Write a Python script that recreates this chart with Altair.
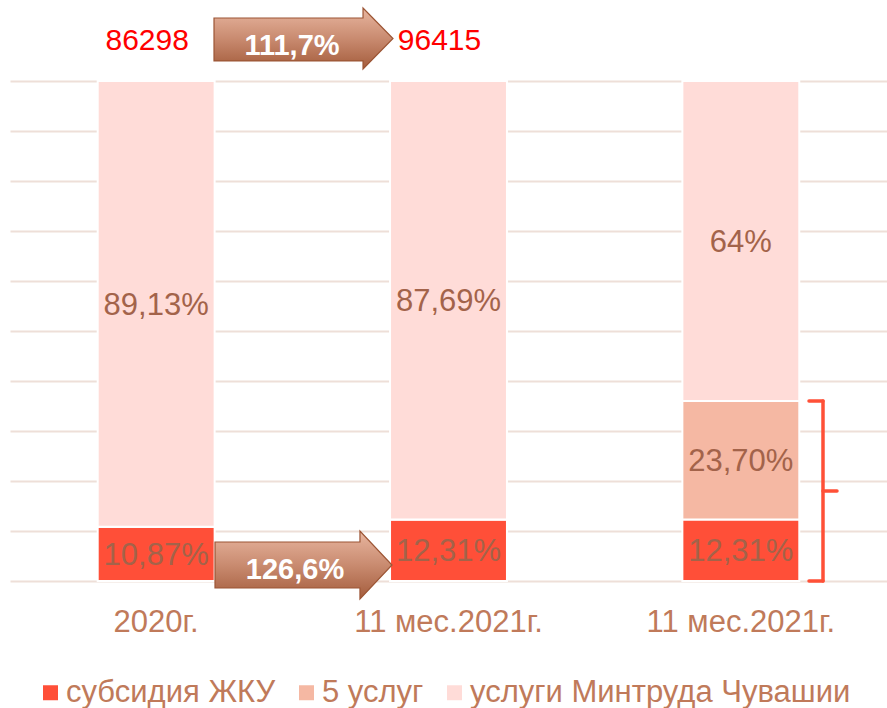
import json
import altair as alt
import pandas as pd

# ---- data ----
cat_keys = ["c1", "c2", "c3"]
cat_labels = ["2020г.", "11 мес.2021г.", "11 мес.2021г."]
series_names = ["субсидия ЖКУ", "5 услуг", "услуги Минтруда Чувашии"]
subsidy = [10.87, 12.31, 12.31]
five = [0.0, 0.0, 23.70]
mintrud = [89.13, 87.69, 64.0]
subsidy_lbl = ["10,87%", "12,31%", "12,31%"]
five_lbl = ["", "", "23,70%"]
mintrud_lbl = ["89,13%", "87,69%", "64%"]
totals = [86298, 96415]
total_cats = ["c1", "c2"]
growth = ["111,7%", "126,6%"]
colors = ["#FF4F38", "#F5B8A3", "#FFDCD8"]

FONT = "Liberation Sans"

rows = []
for i, k in enumerate(cat_keys):
    for o, (name, vals, lbls) in enumerate(
        [(series_names[0], subsidy, subsidy_lbl),
         (series_names[1], five, five_lbl),
         (series_names[2], mintrud, mintrud_lbl)]):
        rows.append({"cat": k, "series": name, "value": vals[i],
                     "label": lbls[i], "ord": o})
df = pd.DataFrame(rows)

label_map = json.dumps(dict(zip(cat_keys, cat_labels)), ensure_ascii=False)

x_enc = alt.X("cat:N", sort=cat_keys,
              scale=alt.Scale(paddingInner=0.6, paddingOuter=0.3),
              axis=alt.Axis(title=None, labelExpr=f"{label_map}[datum.value]",
                            labelAngle=0, domain=False, ticks=False,
                            labelFont=FONT, labelFontSize=31, labelLimit=0,
                            labelColor="#C07A5A", labelPadding=26))

y_scale = alt.Scale(domain=[0, 100], nice=False)

bars = alt.Chart(df).mark_bar(stroke="white", strokeWidth=2).encode(
    x=x_enc,
    y=alt.Y("value:Q", stack="zero", scale=y_scale,
            axis=alt.Axis(title=None, labels=False, domain=False, ticks=False,
                          grid=True, gridColor="#EEDFD8", gridWidth=2,
                          values=list(range(0, 101, 10)))),
    color=alt.Color("series:N",
                    scale=alt.Scale(domain=series_names, range=colors),
                    legend=alt.Legend(title=None, orient="none",
                                      direction="horizontal",
                                      legendX=25, legendY=596, padding=0,
                                      labelFont=FONT, labelFontSize=31,
                                      labelLimit=0,
                                      labelColor="#C07A5A",
                                      symbolType="square", symbolSize=225,
                                      symbolStrokeWidth=0, labelOffset=0,
                                      columnPadding=15)),
    order=alt.Order("ord:Q"),
)

texts = alt.Chart(df).transform_stack(
    stack="value", groupby=["cat"], sort=[alt.SortField("ord")], as_=["v0", "v1"]
).transform_calculate(
    mid="(datum.v0 + datum.v1) / 2"
).transform_filter("datum.value > 0").mark_text(
    font=FONT, fontSize=31, color="#A3634A", baseline="middle", dy=2
).encode(
    x=alt.X("cat:N", sort=cat_keys),
    y=alt.Y("mid:Q", scale=y_scale),
    text="label:N",
)

tot_df = pd.DataFrame({"cat": total_cats, "total": totals})
tot_text = alt.Chart(tot_df).mark_text(
    font=FONT, fontSize=30, color="#FF0000", baseline="middle", dx=-9
).encode(
    x=alt.X("cat:N", sort=cat_keys),
    y=alt.value(-40),
    text="total:N",
)

grad = alt.Gradient(gradient="linear",
                    stops=[alt.GradientStop(color="#E8B6A0", offset=0),
                           alt.GradientStop(color="#C98B70", offset=0.5),
                           alt.GradientStop(color="#A45C3C", offset=1)],
                    x1=0, x2=0, y1=0, y2=1)

one = pd.DataFrame({"g": growth})

arrow1_path = "M-1,-0.229L0.665,-0.229L0.665,-0.341L1,0L0.665,0.341L0.665,0.251L-1,0.251Z"
arrow2_path = "M-1,-0.26L0.638,-0.26L0.638,-0.384L1,0L0.638,0.384L0.638,0.26L-1,0.26Z"

arrow1 = alt.Chart(one.iloc[[0]]).mark_point(
    shape=arrow1_path, size=179 * 179, filled=True, fill=grad, opacity=1,
    stroke="#9C5535", strokeWidth=1.2, strokeOpacity=1
).encode(x=alt.value(293.5), y=alt.value(-42.5))

arrow2 = alt.Chart(one.iloc[[1]]).mark_point(
    shape=arrow2_path, size=177 * 177, filled=True, fill=grad, opacity=1,
    stroke="#9C5535", strokeWidth=1.2, strokeOpacity=1
).encode(x=alt.value(293.5), y=alt.value(484))

arrow1_t = alt.Chart(one.iloc[[0]]).mark_text(
    font=FONT, fontSize=29, fontWeight="bold", color="white", baseline="middle"
).encode(x=alt.value(282), y=alt.value(-35), text="g:N")

arrow2_t = alt.Chart(one.iloc[[1]]).mark_text(
    font=FONT, fontSize=29, fontWeight="bold", color="white", baseline="middle"
).encode(x=alt.value(285), y=alt.value(489), text="g:N")

BR = "#FF5037"
top_br = subsidy[2] + five[2]
br_base = alt.Chart(pd.DataFrame({"a": [0]}))
br_v = br_base.mark_rule(color=BR, strokeWidth=3.5, strokeCap="round").encode(
    x=alt.value(813), y=alt.datum(0), y2=alt.datum(top_br))
br_t = br_base.mark_rule(color=BR, strokeWidth=3.5, strokeCap="round").encode(
    x=alt.value(799), x2=alt.value(813), y=alt.datum(top_br))
br_b = br_base.mark_rule(color=BR, strokeWidth=3.5, strokeCap="round").encode(
    x=alt.value(799), x2=alt.value(813), y=alt.datum(0))
br_m = br_base.mark_rule(color=BR, strokeWidth=3.5, strokeCap="round").encode(
    x=alt.value(813), x2=alt.value(827), y=alt.datum(top_br / 2))

chart = alt.layer(
    bars, texts, tot_text, arrow1, arrow2, arrow1_t, arrow2_t,
    br_v, br_t, br_b, br_m
).properties(
    width=877, height=500,
    background="white",
    autosize=alt.AutoSizeParams(type="none"),
    padding={"left": 10, "top": 81, "right": 0, "bottom": 127},
).configure_view(stroke=None)

chart.save("out.html", embed_options={"renderer": "svg", "actions": False})
